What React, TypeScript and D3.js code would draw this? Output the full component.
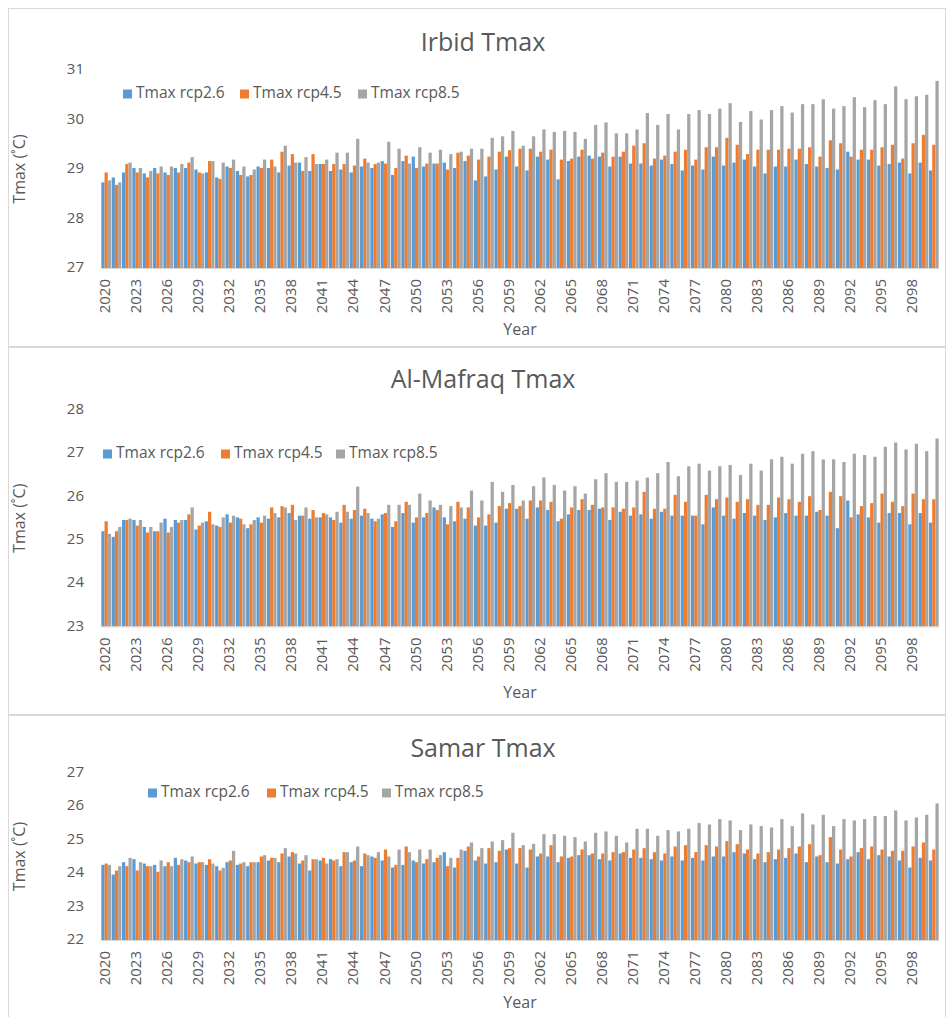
import * as d3 from 'd3';

const years = d3.range(2020, 2101);
const seriesNames = ['Tmax rcp2.6', 'Tmax rcp4.5', 'Tmax rcp8.5'];
const colors = ['#5B9BD5', '#ED7D31', '#A5A5A5'];

const irbidRcp26 = [
  28.73, 28.83, 28.93, 29.02, 28.91, 29.02, 28.93, 29.02, 29.02, 28.99, 28.93, 28.83, 29.05, 28.96, 28.85, 29.05, 29.02, 28.93, 29.07, 29.13, 28.96, 29.1, 28.96, 28.99, 28.93, 29.05, 29.02, 29.16,
  28.88, 29.16, 29.25, 29.05, 29.11, 29.13, 29.02, 29.16, 28.77, 28.85, 28.99, 29.25, 29.05, 28.97, 29.25, 29.19, 28.79, 29.16, 29.25, 29.27, 29.25, 29.05, 29.25, 29.11, 29.11, 29.07, 29.19,
  29.1, 28.97, 29.07, 28.99, 29.25, 29.07, 29.13, 29.19, 29.05, 28.91, 29.05, 29.05, 29.19, 29.1, 29.05, 29.02, 28.99, 29.35, 29.19, 29.19, 29.07, 29.1, 29.13, 28.91, 29.13, 28.97
];
const irbidRcp45 = [
  28.93, 28.68, 29.1, 28.93, 28.83, 28.91, 28.88, 28.93, 29.13, 28.93, 29.16, 28.8, 29.02, 28.88, 28.88, 29.02, 29.19, 29.35, 29.3, 28.96, 29.3, 29.1, 29.1, 29.1, 29.07, 29.21, 29.1, 29.11,
  29.02, 29.27, 29.02, 29.11, 29.11, 28.99, 29.33, 29.27, 29.19, 29.25, 29.35, 29.38, 29.41, 29.41, 29.35, 29.39, 29.19, 29.21, 29.39, 29.21, 29.33, 29.25, 29.35, 29.47, 29.52, 29.21, 29.27,
  29.35, 29.39, 29.19, 29.44, 29.44, 29.63, 29.49, 29.3, 29.39, 29.39, 29.39, 29.41, 29.41, 29.44, 29.25, 29.58, 29.52, 29.25, 29.39, 29.39, 29.44, 29.49, 29.21, 29.52, 29.69, 29.49
];
const irbidRcp85 = [
  28.77, 28.73, 29.13, 29.02, 28.96, 29.05, 29.05, 29.1, 29.24, 28.91, 29.16, 29.13, 29.19, 29.05, 28.99, 29.19, 29.05, 29.47, 29.13, 29.24, 29.1, 29.19, 29.33, 29.33, 29.61, 29.13, 29.13, 29.55,
  29.41, 29.11, 29.44, 29.33, 29.39, 29.3, 29.35, 29.41, 29.41, 29.63, 29.66, 29.77, 29.47, 29.66, 29.8, 29.75, 29.77, 29.75, 29.61, 29.89, 29.94, 29.72, 29.72, 29.8, 30.13, 29.89, 30.11,
  29.8, 30.11, 30.19, 30.11, 30.22, 30.33, 29.95, 30.17, 30.0, 30.19, 30.27, 30.14, 30.31, 30.31, 30.41, 30.22, 30.27, 30.45, 30.25, 30.39, 30.31, 30.67, 30.41, 30.47, 30.5, 30.78
];

const mafraqRcp26 = [
  25.2, 25.07, 25.46, 25.46, 25.3, 25.2, 25.49, 25.46, 25.46, 25.24, 25.43, 25.33, 25.59, 25.52, 25.27, 25.52, 25.49, 25.52, 25.62, 25.56, 25.49, 25.52, 25.52, 25.4, 25.49, 25.56, 25.49,
  25.59, 25.3, 25.62, 25.4, 25.52, 25.75, 25.52, 25.43, 25.49, 25.33, 25.33, 25.4, 25.72, 25.72, 25.49, 25.75, 25.69, 25.43, 25.59, 25.69, 25.69, 25.72, 25.46, 25.65, 25.56, 25.59, 25.49, 25.65,
  25.56, 25.56, 25.56, 25.36, 25.75, 25.56, 25.49, 25.62, 25.56, 25.46, 25.52, 25.62, 25.56, 25.56, 25.65, 25.56, 25.27, 25.91, 25.59, 25.52, 25.4, 25.62, 25.62, 25.36, 25.62, 25.4
];
const mafraqRcp45 = [
  25.43, 25.2, 25.46, 25.33, 25.17, 25.2, 25.17, 25.4, 25.59, 25.33, 25.65, 25.3, 25.4, 25.49, 25.36, 25.4, 25.75, 25.78, 25.81, 25.56, 25.69, 25.62, 25.46, 25.81, 25.69, 25.72, 25.43,
  25.62, 25.43, 25.88, 25.52, 25.62, 25.69, 25.36, 25.88, 25.75, 25.52, 25.59, 25.78, 25.85, 25.78, 25.91, 25.91, 25.88, 25.49, 25.75, 25.94, 25.81, 25.75, 25.75, 25.72, 25.75, 26.11, 25.72, 25.72,
  26.04, 25.88, 25.56, 26.04, 25.94, 25.98, 25.88, 25.94, 25.81, 25.81, 25.98, 25.94, 25.88, 26.01, 25.69, 26.11, 26.01, 25.52, 25.78, 25.85, 26.07, 25.88, 25.78, 26.07, 25.94, 25.94
];
const mafraqRcp85 = [
  25.14, 25.3, 25.49, 25.46, 25.3, 25.4, 25.3, 25.46, 25.75, 25.4, 25.36, 25.52, 25.56, 25.36, 25.46, 25.56, 25.62, 25.75, 25.46, 25.75, 25.52, 25.59, 25.65, 25.65, 26.23, 25.62, 25.49,
  25.81, 25.81, 25.81, 26.07, 25.91, 25.81, 25.78, 25.75, 26.14, 25.91, 26.34, 26.11, 26.27, 25.91, 26.24, 26.44, 26.27, 26.14, 26.24, 26.07, 26.4, 26.54, 26.34, 26.34, 26.37, 26.44, 26.54, 26.8,
  26.47, 26.7, 26.76, 26.6, 26.7, 26.73, 26.5, 26.76, 26.6, 26.86, 26.92, 26.76, 26.99, 27.05, 26.86, 26.86, 26.8, 26.99, 26.96, 26.92, 27.15, 27.25, 27.09, 27.22, 27.05, 27.34
];

const samarRcp26 = [
  24.25, 23.96, 24.33, 24.42, 24.29, 24.25, 24.21, 24.46, 24.38, 24.29, 24.25, 24.21, 24.33, 24.25, 24.21, 24.33, 24.38, 24.33, 24.5, 24.29, 24.08, 24.38, 24.42, 24.21, 24.33, 24.21, 24.5,
  24.38, 24.17, 24.25, 24.38, 24.29, 24.33, 24.63, 24.17, 24.67, 24.38, 24.29, 24.33, 24.71, 24.29, 24.17, 24.5, 24.5, 24.33, 24.46, 24.54, 24.54, 24.42, 24.38, 24.59, 24.46, 24.46, 24.42, 24.38,
  24.5, 24.38, 24.46, 24.38, 24.5, 24.5, 24.63, 24.59, 24.42, 24.33, 24.42, 24.46, 24.59, 24.33, 24.5, 24.33, 24.29, 24.42, 24.63, 24.42, 24.54, 24.5, 24.38, 24.17, 24.46, 24.38
];
const samarRcp45 = [
  24.29, 24.08, 24.21, 24.08, 24.21, 24.04, 24.33, 24.25, 24.33, 24.33, 24.42, 24.08, 24.38, 24.29, 24.33, 24.5, 24.46, 24.59, 24.63, 24.38, 24.42, 24.46, 24.38, 24.63, 24.38, 24.59, 24.46,
  24.71, 24.25, 24.8, 24.33, 24.42, 24.46, 24.21, 24.46, 24.8, 24.5, 24.75, 24.67, 24.75, 24.75, 24.71, 24.59, 24.84, 24.5, 24.5, 24.71, 24.59, 24.59, 24.63, 24.63, 24.71, 24.75, 24.63, 24.59,
  24.8, 24.84, 24.63, 24.84, 24.8, 24.96, 24.87, 24.71, 24.59, 24.63, 24.71, 24.75, 24.8, 24.87, 24.54, 25.08, 24.71, 24.5, 24.75, 24.8, 24.71, 24.67, 24.67, 24.8, 24.92, 24.71
];
const samarRcp85 = [
  24.25, 24.21, 24.46, 24.33, 24.21, 24.38, 24.21, 24.42, 24.5, 24.33, 24.29, 24.16, 24.67, 24.33, 24.33, 24.54, 24.46, 24.75, 24.59, 24.54, 24.42, 24.29, 24.42, 24.63, 24.8, 24.54, 24.63,
  24.5, 24.71, 24.63, 24.71, 24.71, 24.54, 24.46, 24.71, 24.92, 24.75, 24.95, 24.99, 25.21, 24.84, 24.88, 25.17, 25.17, 25.12, 25.08, 24.95, 25.21, 25.25, 25.12, 24.92, 25.33, 25.33, 25.12, 25.29,
  25.25, 25.33, 25.5, 25.46, 25.62, 25.58, 25.29, 25.46, 25.41, 25.37, 25.62, 25.41, 25.79, 25.46, 25.75, 25.41, 25.62, 25.58, 25.62, 25.71, 25.71, 25.88, 25.58, 25.67, 25.75, 26.09
];

const irbidTicks = [27, 28, 29, 30, 31];
const mafraqTicks = [23, 24, 25, 26, 27, 28];
const samarTicks = [22, 23, 24, 25, 26, 27];

const FONT = '"Open Sans", "Noto Sans", sans-serif';
const TEXT = '#595959';
const plotLeft = 101;
const plotRight = 939;

function Panel({ boxTop, boxHeight, title, titleY, ticks, yTop, yBottom, legendY, legendX, series, yearY }) {
  const x = d3.scaleBand().domain(years.map(String)).range([plotLeft, plotRight]).paddingInner(0.06).paddingOuter(0.03);
  const x1 = d3.scaleBand().domain(['0', '1', '2']).range([0, x.bandwidth()]);
  const y = d3.scaleLinear().domain([ticks[0], ticks[ticks.length - 1]]).range([yBottom, yTop]);
  const labelYears = years.filter((yr) => (yr - 2020) % 3 === 0 && yr <= 2098);

  return (
    <g>
      <rect x={8.5} y={boxTop + 0.5} width={937} height={boxHeight} fill="#fff" stroke="#d9d9d9" />
      <text x={483} y={titleY} textAnchor="middle" dominantBaseline="middle" fontSize={25} fill={TEXT}>
        {title}
      </text>

      {ticks.map((t) => (
        <text key={t} x={84} y={y(t)} textAnchor="end" dominantBaseline="middle" fontSize={15} fill={TEXT}>
          {t}
        </text>
      ))}

      {years.map((yr, i) => (
        <g key={yr} transform={`translate(${x(String(yr))},0)`}>
          {series.map((vals, s) => (
            <rect
              key={s}
              x={x1(String(s))}
              y={y(vals[i])}
              width={x1.bandwidth()}
              height={yBottom - y(vals[i])}
              fill={colors[s]}
            />
          ))}
        </g>
      ))}
      <line x1={plotLeft} x2={plotRight} y1={yBottom + 0.5} y2={yBottom + 0.5} stroke="#d9d9d9" />

      {labelYears.map((yr) => {
        const cx = x(String(yr)) + x.bandwidth() / 2;
        return (
          <text
            key={yr}
            transform={`translate(${cx},${yBottom + 11}) rotate(-90)`}
            textAnchor="end"
            dominantBaseline="middle"
            fontSize={15}
            fill={TEXT}
          >
            {yr}
          </text>
        );
      })}

      <text x={(plotLeft + plotRight) / 2} y={yearY} textAnchor="middle" dominantBaseline="middle" fontSize={16} fill={TEXT}>
        Year
      </text>
      <text
        transform={`translate(21,${(yTop + yBottom) / 2}) rotate(-90)`}
        textAnchor="middle"
        dominantBaseline="middle"
        fontSize={16}
        fill={TEXT}
      >
        Tmax (˚C)
      </text>

      {seriesNames.map((name, s) => (
        <g key={name} transform={`translate(${legendX[s]},${legendY})`}>
          <rect x={0} y={-4.5} width={9} height={9} fill={colors[s]} />
          <text x={13} y={0} dominantBaseline="middle" fontSize={15.5} fill={TEXT}>
            {name}
          </text>
        </g>
      ))}
    </g>
  );
}

export default function App() {
  return (
    <svg
      width={946}
      height={1017}
      style={{ position: 'absolute', left: 0, top: 0, display: 'block', background: '#fff' }}
      fontFamily={FONT}
    >
      <Panel
        boxTop={8}
        boxHeight={338}
        title="Irbid Tmax"
        titleY={44}
        ticks={irbidTicks}
        yTop={70}
        yBottom={268}
        legendY={94}
        legendX={[123, 240, 358]}
        series={[irbidRcp26, irbidRcp45, irbidRcp85]}
        yearY={331}
      />
      <Panel
        boxTop={347}
        boxHeight={367}
        title="Al-Mafraq Tmax"
        titleY={381}
        ticks={mafraqTicks}
        yTop={410}
        yBottom={626.5}
        legendY={454}
        legendX={[103, 221, 336]}
        series={[mafraqRcp26, mafraqRcp45, mafraqRcp85]}
        yearY={694}
      />
      <Panel
        boxTop={715}
        boxHeight={310}
        title="Samar Tmax"
        titleY={750}
        ticks={samarTicks}
        yTop={773}
        yBottom={940}
        legendY={793}
        legendX={[148, 267, 382]}
        series={[samarRcp26, samarRcp45, samarRcp85]}
        yearY={1004}
      />
    </svg>
  );
}
